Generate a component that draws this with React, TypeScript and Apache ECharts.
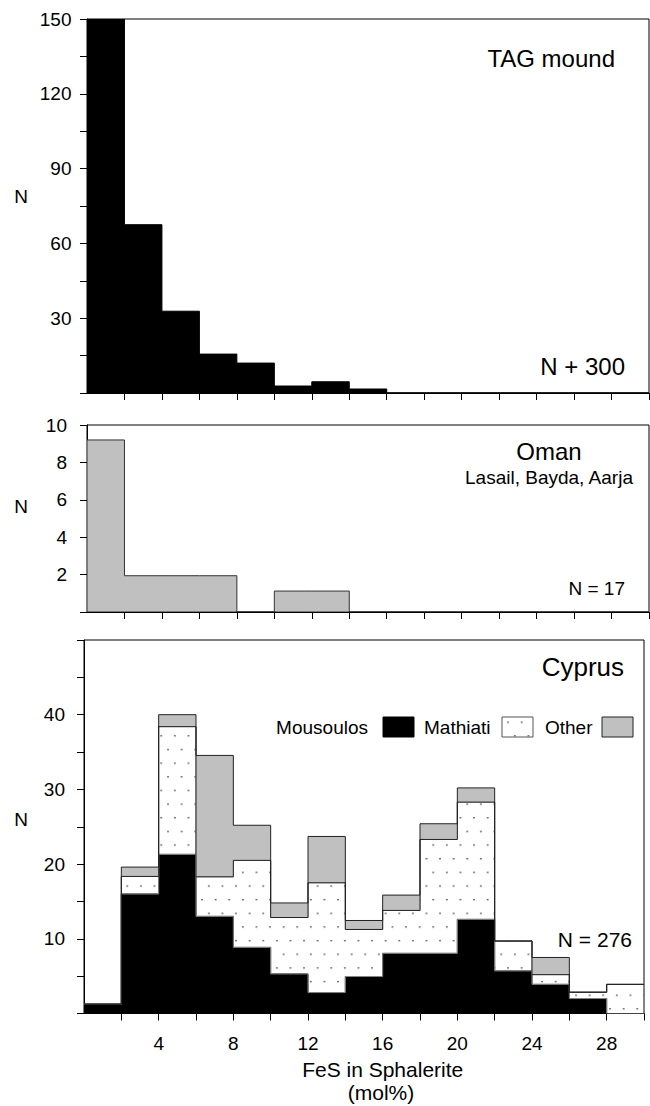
import React, { useEffect, useRef } from "react";
import * as echarts from "echarts";

// ---- Data ----
const binEdges = [0, 2, 4, 6, 8, 10, 12, 14, 16, 18, 20, 22, 24, 26, 28, 30];
const xTickValues = [2, 4, 6, 8, 10, 12, 14, 16, 18, 20, 22, 24, 26, 28, 30];
const xLabelValues = [4, 8, 12, 16, 20, 24, 28];

// TAG mound (first bin off-scale, ~300)
const tagCounts = [300, 67.5, 32.8, 15.6, 12, 2.8, 4.5, 1.6, 0, 0, 0, 0, 0, 0, 0];
const tagYTicks = [0, 15, 30, 45, 60, 75, 90, 105, 120, 135, 150];
const tagYLabels = [30, 60, 90, 120, 150];

// Oman (Lasail, Bayda, Aarja)
const omanCounts = [9.2, 1.94, 1.94, 1.94, 0, 1.12, 1.12, 0, 0, 0, 0, 0, 0, 0, 0];
const omanYTicks = [0, 2, 4, 6, 8, 10];
const omanYLabels = [2, 4, 6, 8, 10];

// Cyprus (stacked)
const cyprusMousoulos = [1.25, 16.0, 21.3, 13.0, 8.85, 5.3, 2.8, 4.95, 8.05, 8.05, 12.6, 5.7, 3.9, 2.0, 0];
const cyprusMathiati = [0, 2.35, 17.1, 5.3, 11.65, 7.55, 14.7, 6.3, 5.75, 15.25, 15.7, 4.0, 1.3, 0.85, 3.9];
const cyprusOther = [0, 1.25, 1.6, 16.25, 4.7, 1.95, 6.2, 1.2, 2.05, 2.1, 1.9, 0, 2.3, 0, 0];
const cyprusYTicks = [0, 5, 10, 15, 20, 25, 30, 35, 40, 45, 50];
const cyprusYLabels = [10, 20, 30, 40];

const FONT = "'Liberation Sans', Arial, Helvetica, sans-serif";
const GRAY = "#c0c0c0";

const dotSvg =
  '<svg xmlns="http://www.w3.org/2000/svg" width="13.6" height="27.3">' +
  '<rect x="11" y="25.4" width="1.3" height="1.3" fill="#111"/>' +
  '<rect x="4.2" y="11.8" width="1.3" height="1.3" fill="#111"/></svg>';
const dotPattern: any = {
  image: "data:image/svg+xml;charset=utf-8," + encodeURIComponent(dotSvg),
  repeat: "repeat",
  imageWidth: 13.6,
  imageHeight: 27.3,
};

const zeros = binEdges.slice(1).map(() => 0);
const addArr = (a: number[], b: number[]) => a.map((v, i) => v + b[i]);

function stepLayer(gi: number, lower: number[], upper: number[], style: any, z: number) {
  return {
    type: "custom",
    xAxisIndex: gi,
    yAxisIndex: gi,
    clip: true,
    silent: true,
    z,
    data: [[0, 0]],
    renderItem: (_params: any, api: any) => {
      const pts: number[][] = [];
      for (let i = 0; i < upper.length; i++) {
        pts.push(api.coord([binEdges[i], upper[i]]));
        pts.push(api.coord([binEdges[i + 1], upper[i]]));
      }
      for (let i = lower.length - 1; i >= 0; i--) {
        pts.push(api.coord([binEdges[i + 1], lower[i]]));
        pts.push(api.coord([binEdges[i], lower[i]]));
      }
      return { type: "polygon", shape: { points: pts }, style };
    },
  };
}

function makeX(gi: number, showLabels: boolean) {
  return {
    gridIndex: gi,
    type: "value",
    min: 0,
    max: 30,
    interval: 2,
    axisLine: { show: true, onZero: false, lineStyle: { color: "#000", width: 1 } },
    axisTick: { show: true, inside: false, length: 7, lineStyle: { color: "#000" }, customValues: xTickValues },
    axisLabel: {
      show: showLabels,
      customValues: xLabelValues,
      margin: 20.5,
      fontSize: 19,
      fontFamily: FONT,
      color: "#000",
    },
    splitLine: { show: false },
  };
}

function makeY(gi: number, max: number, interval: number, ticks: number[], labels: number[], margin: number) {
  return {
    gridIndex: gi,
    type: "value",
    min: 0,
    max,
    interval,
    axisLine: { show: true, onZero: false, lineStyle: { color: "#000", width: 1 } },
    axisTick: { show: true, inside: false, length: 7, lineStyle: { color: "#000" }, customValues: ticks },
    axisLabel: { customValues: labels, margin, fontSize: 19, fontFamily: FONT, color: "#000" },
    splitLine: { show: false },
  };
}

function txt(text: string, x: number, y: number, size: number, align: string) {
  return {
    type: "text",
    x,
    y,
    silent: true,
    style: { text, fontSize: size, fontFamily: FONT, fill: "#000", align, verticalAlign: "middle" },
  };
}

function box(x: number, y: number, fill: any, stroke: string) {
  return {
    type: "rect",
    silent: true,
    shape: { x, y, width: 31, height: 20 },
    style: { fill, stroke, lineWidth: 1 },
  };
}

export default function App() {
  const ref = useRef<HTMLDivElement>(null);
  useEffect(() => {
    if (!ref.current) return;
    const chart = echarts.init(ref.current, null, { renderer: "svg" });

    const cyBlack = addArr(zeros, cyprusMousoulos);
    const cyDot = addArr(cyBlack, cyprusMathiati);
    const cyGray = addArr(cyDot, cyprusOther);

    const gridBase = { show: true, borderColor: "#000", borderWidth: 1, backgroundColor: "transparent", containLabel: false, outerBoundsMode: "none" };

    chart.setOption({
      animation: false,
      backgroundColor: "#fff",
      grid: [
        { ...gridBase, left: 87, top: 19, width: 562, height: 374 },
        { ...gridBase, left: 87, top: 425, width: 562, height: 187 },
        { ...gridBase, left: 84, top: 640, width: 560, height: 373.5 },
      ],
      xAxis: [makeX(0, false), makeX(1, false), makeX(2, true)],
      yAxis: [
        makeY(0, 150, 15, tagYTicks, tagYLabels, 15.5),
        makeY(1, 10, 2, omanYTicks, omanYLabels, 20),
        makeY(2, 50, 5, cyprusYTicks, cyprusYLabels, 19),
      ],
      series: [
        stepLayer(0, zeros, tagCounts, { fill: "#000", stroke: "#000", lineWidth: 1 }, 2),
        stepLayer(1, zeros, omanCounts, { fill: GRAY, stroke: "#333", lineWidth: 1 }, 2),
        stepLayer(2, zeros, cyBlack, { fill: "#000", stroke: "#000", lineWidth: 1 }, 2),
        stepLayer(2, cyBlack, cyDot, { fill: dotPattern, stroke: "#888", lineWidth: 1 }, 3),
        stepLayer(2, cyDot, cyGray, { fill: GRAY, stroke: "#222", lineWidth: 1 }, 4),
      ],
      graphic: [
        txt("TAG mound", 615, 58, 24, "right"),
        txt("N + 300", 625, 366.5, 24, "right"),
        txt("N", 21, 196, 19, "center"),
        txt("Oman", 549, 451.7, 24, "center"),
        txt("Lasail, Bayda, Aarja", 549, 477, 19, "center"),
        txt("N = 17", 625, 588, 19, "right"),
        txt("N", 21, 506, 19, "center"),
        txt("Cyprus", 624, 666.5, 26, "right"),
        txt("N = 276", 632, 939, 21, "right"),
        txt("N", 21, 819, 19, "center"),
        txt("Mousoulos", 368, 727.5, 19, "right"),
        box(383, 717, "#000", "#000"),
        txt("Mathiati", 424, 727.5, 19, "left"),
        box(502, 717, dotPattern, "#555"),
        txt("Other", 545, 727.5, 19, "left"),
        box(602, 717, GRAY, "#222"),
        txt("FeS in Sphalerite", 382.7, 1069.5, 21, "center"),
        txt("(mol%)", 381, 1092, 21, "center"),
      ],
    });
    return () => chart.dispose();
  }, []);
  return (
    <div
      ref={ref}
      style={{ position: "absolute", left: 0, top: 0, width: 650, height: 1106, background: "#fff" }}
    />
  );
}
